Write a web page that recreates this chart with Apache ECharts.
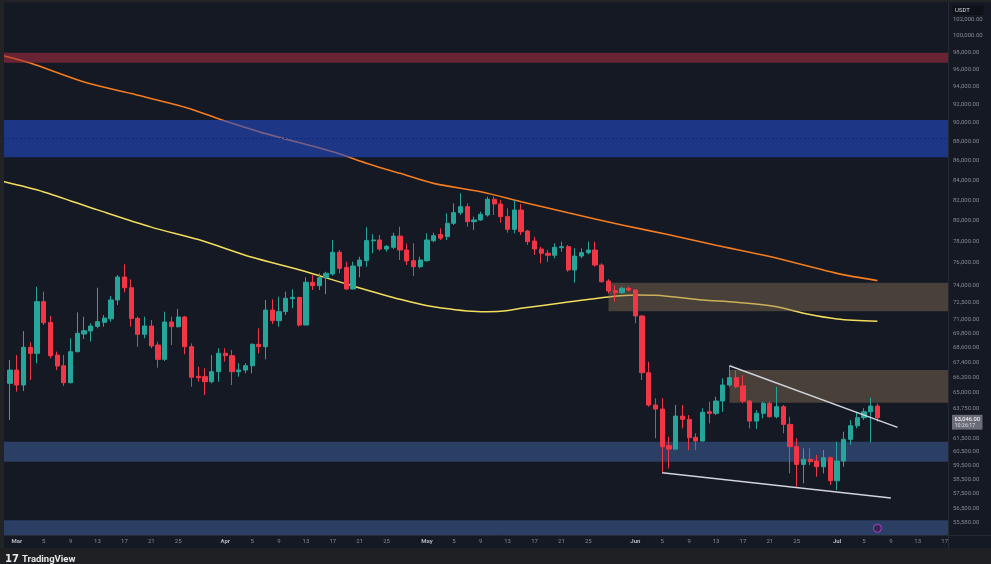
<!DOCTYPE html>
<html lang="en">
<head>
<meta charset="UTF-8">
<title>BTC/USDT 1D</title>
<script src="https://cdn.jsdelivr.net/npm/echarts@6/dist/echarts.min.js"></script>
<style>
    html, body { margin: 0; padding: 0; background: #151924; }
    #main { width: 991px; height: 564px; }
</style>
</head>
<body>
<div id="main"></div>
<script>
    // daily categories, Feb 28 .. Jul 17
    var dates = [];
    var t0 = Date.UTC(2024, 1, 28);
    for (var i = 0; i < 141; i++) {
        dates.push(new Date(t0 + i * 86400000).toISOString().slice(0, 10));
    }
    var firstCandle = '2024-02-29';

    // [open, close, low, high] from Feb 29 to Jul 7
    var candles = [
        [65720, 66780, 62870, 67600], [66780, 65585, 65060, 68005], [65585, 68640, 65110, 70000], [68640, 68140, 65980, 69060],
        [68140, 72530, 67320, 73850], [72530, 70710, 70510, 73410], [70740, 67950, 67730, 71290], [68000, 67110, 66780, 68280],
        [67130, 65770, 65510, 68000], [65770, 68280, 65720, 69390], [68280, 69810, 68230, 71600], [69750, 70030, 69330, 71230],
        [70010, 70430, 69110, 70660], [70400, 70800, 70230, 73760], [70740, 71110, 70370, 71370], [71050, 72680, 70800, 73030],
        [72680, 74720, 72240, 74900], [74720, 73760, 73350, 75880], [73760, 71080, 70370, 74520], [71080, 69730, 68690, 71230],
        [69730, 70430, 69390, 71230], [70430, 68750, 68560, 70940], [68830, 67650, 66970, 69110], [67650, 70770, 67510, 71660],
        [70770, 70370, 68830, 71230], [70370, 71200, 70290, 71890], [71200, 68690, 68060, 71290], [68690, 66200, 65450, 68970],
        [66280, 66170, 65850, 67050], [66250, 65850, 64800, 66920], [65850, 66650, 65720, 68000], [66650, 68150, 65850, 68560],
        [68150, 67950, 67460, 68560], [67950, 66650, 65580, 68420], [66650, 66780, 66250, 67330], [66780, 67130, 66520, 67330],
        [67130, 68890, 66520, 68970], [68890, 68690, 68140, 70230], [68690, 71800, 67650, 72680], [71800, 70880, 70600, 72740],
        [70880, 71660, 70370, 72970], [71660, 72830, 71370, 73410], [72790, 72910, 71950, 73620], [72910, 70510, 70370, 72950],
        [70510, 74250, 70510, 74700], [74250, 73940, 73560, 74900], [73940, 74660, 73560, 75060], [74660, 75060, 73200, 75200],
        [75000, 76990, 74840, 78140], [76990, 75510, 75060, 77200], [75600, 73650, 73560, 76120], [73650, 75720, 73620, 76120],
        [75720, 76270, 74700, 76580], [76210, 78080, 75660, 79350], [78060, 78140, 76890, 78680], [78140, 77290, 77130, 78610],
        [77290, 77540, 77040, 77670], [77450, 78510, 77290, 78830], [78510, 77200, 76270, 79400], [77200, 76180, 75810, 77820],
        [76210, 75660, 74810, 77830], [75660, 76270, 75510, 76580], [76210, 78140, 76120, 78770], [78070, 78550, 77920, 78830],
        [78650, 78310, 78140, 79250], [78450, 79730, 78140, 80700], [79730, 80760, 79570, 81680], [80760, 81350, 80530, 82670],
        [81350, 79890, 79400, 81680], [79890, 80050, 79090, 80370], [80050, 80600, 79980, 80860], [80530, 82080, 80370, 82340],
        [82080, 81610, 80530, 82340], [81610, 80370, 79790, 82010], [80370, 79150, 78830, 81190], [79150, 81020, 78770, 82010],
        [81020, 78930, 78610, 81610], [78990, 77980, 77670, 79090], [78040, 77290, 76740, 78450], [77290, 76890, 75970, 77500],
        [76890, 76710, 76120, 77200], [76710, 77450, 76430, 77830], [77420, 77510, 77040, 77980], [77510, 75360, 75200, 77670],
        [75360, 76640, 74210, 77360], [76640, 76950, 76430, 77360], [76950, 77200, 76790, 77980], [77200, 75810, 75660, 77980],
        [75810, 74300, 74210, 75970], [74360, 73470, 73270, 74520], [73500, 73320, 72530, 74000], [73320, 73710, 73200, 73850],
        [73710, 73560, 73410, 73850], [73560, 71290, 70660, 73620], [71290, 66570, 65980, 71370], [66570, 64020, 63890, 67460],
        [64020, 63710, 61500, 64540], [63710, 60880, 58950, 64540], [60950, 60700, 59300, 61620], [60700, 63170, 60630, 64020],
        [63170, 62920, 62240, 64020], [62920, 61540, 60630, 63250], [61570, 61300, 60630, 61870], [61300, 63460, 61250, 63770],
        [63500, 63380, 62620, 64280], [63380, 64330, 63250, 64670], [64330, 65590, 63500, 66120], [65590, 66170, 65450, 67130],
        [66170, 65450, 65320, 66780], [65510, 64330, 64150, 66380], [64330, 62790, 62240, 64410], [62790, 63380, 62190, 63630],
        [63380, 64150, 63000, 64280], [64150, 63120, 63050, 64280], [63120, 63890, 63000, 65450], [63890, 62540, 61870, 64020],
        [62540, 60880, 58950, 63120], [60880, 59590, 58000, 61500], [59590, 59960, 58240, 60760], [59960, 59780, 59540, 60760],
        [59830, 59420, 58710, 60270], [59420, 60070, 58950, 60630], [60070, 58430, 58120, 60150], [58430, 59830, 57770, 61240],
        [59830, 61420, 59420, 61990], [61420, 62440, 61000, 62870], [62440, 63050, 62240, 63500], [63050, 63500, 62870, 63770],
        [63500, 63940, 61190, 64590], [63940, 63046, 62740, 64150]
    ];

    // moving averages
    var ma200 = [
        ['2024-02-28', 97620], ['2024-03-03', 96760], ['2024-03-11', 94570], ['2024-03-18', 93260],
        ['2024-03-26', 91730], ['2024-03-31', 90460], ['2024-04-07', 88850], ['2024-04-17', 86930],
        ['2024-04-22', 85730], ['2024-04-27', 84690], ['2024-05-02', 83670], ['2024-05-09', 82820],
        ['2024-05-15', 81840], ['2024-05-22', 80750], ['2024-05-30', 79570], ['2024-06-06', 78630],
        ['2024-06-13', 77650], ['2024-06-21', 76590], ['2024-07-01', 75050], ['2024-07-07', 74400]
    ];
    var ma100 = [
        ['2024-02-28', 83850], ['2024-03-05', 82810], ['2024-03-13', 81030], ['2024-03-21', 79360],
        ['2024-03-28', 78180], ['2024-04-05', 76520], ['2024-04-12', 75380], ['2024-04-20', 73920],
        ['2024-04-27', 72740], ['2024-05-02', 72080], ['2024-05-09', 71660], ['2024-05-12', 71700],
        ['2024-05-15', 71950], ['2024-05-22', 72500], ['2024-05-28', 72950], ['2024-06-01', 73120],
        ['2024-06-04', 73090], ['2024-06-11', 72680], ['2024-06-16', 72470], ['2024-06-22', 72090],
        ['2024-06-26', 71520], ['2024-07-01', 71030], ['2024-07-07', 70830]
    ];

    // trend lines
    var upperTrend = [['2024-06-15', 67130], ['2024-07-10', 62320]];
    var lowerTrend = [['2024-06-05', 58990], ['2024-07-09', 57220]];

    // price zones [low, high] (and start date for the partial ones)
    var redZone = [96800, 97970];
    var blueZone = [86350, 90320];
    var blueMid = 88310;
    var supportZone = [59780, 61240];
    var bottomZone = [54720, 55700];
    var supplyZones = [[71690, 74210, '2024-05-28'], [64200, 66780, '2024-06-15']];

    // price axis labels
    var priceTicks = [102000, 100000, 98000, 96000, 94000, 92000, 90000, 88000, 86000, 84000, 82000, 80000,
        78000, 76000, 74000, 72500, 71000, 69800, 68600, 67400, 66200, 65000, 63750, 61500, 60500,
        59500, 58500, 57500, 56500, 55580];
    var dayTicks = [1, 5, 9, 13, 17, 21, 25];
    var monthNames = ['Jan', 'Feb', 'Mar', 'Apr', 'May', 'Jun', 'Jul', 'Aug', 'Sep', 'Oct', 'Nov', 'Dec'];

    var yMin = 54720, yMax = 104030;
    var lastClose = candles[candles.length - 1][1];
    var eventPoint = [['2024-07-07', 55165]];

    function fmt(v) {
        return v.toFixed(2).replace(/\B(?=(\d{3})+(?!\d))/g, ',');
    }

    var startIdx = dates.indexOf(firstCandle);
    var candleData = dates.map(function (d, i) {
        var k = i - startIdx;
        return (k >= 0 && k < candles.length) ? candles[k] : '-';
    });

    var myChart = echarts.init(document.getElementById('main'));

    var option = {
        backgroundColor: '#151924',
        animation: false,
        grid: { left: 0, right: 43, top: 3, bottom: 29 },
        xAxis: {
            type: 'category',
            data: dates,
            boundaryGap: true,
            axisLine: { show: false },
            axisTick: { show: false },
            splitLine: { show: false },
            axisLabel: {
                margin: 3,
                fontSize: 6,
                fontFamily: 'Roboto, sans-serif',
                color: '#868993',
                interval: function (i, v) {
                    return dayTicks.indexOf(+v.slice(8)) >= 0;
                },
                formatter: function (v) {
                    var d = +v.slice(8);
                    return d === 1 ? '{m|' + monthNames[+v.slice(5, 7) - 1] + '}' : String(d);
                },
                rich: { m: { fontSize: 6, fontWeight: 'bold', color: '#b2b5be', fontFamily: 'Roboto, sans-serif' } }
            }
        },
        yAxis: {
            type: 'log',
            logBase: 10,
            position: 'right',
            min: yMin,
            max: yMax,
            axisLine: { show: false },
            axisTick: { show: false },
            splitLine: { show: false },
            axisLabel: {
                customValues: priceTicks,
                formatter: fmt,
                margin: 5,
                fontSize: 6,
                fontFamily: 'Roboto, sans-serif',
                color: '#868993'
            }
        },
        graphic: [
            { type: 'rect', z: 100, shape: { x: 0, y: 0, width: 4, height: 564 }, style: { fill: '#222326' } },
            { type: 'rect', z: 100, shape: { x: 0, y: 0, width: 991, height: 2.5 }, style: { fill: '#222326' } },
            { type: 'rect', z: 100, shape: { x: 0, y: 548, width: 991, height: 16 }, style: { fill: '#1f2023' } },
            { type: 'line', z: 100, shape: { x1: 948.5, y1: 2.5, x2: 948.5, y2: 548 }, style: { stroke: '#262a35', lineWidth: 1 } },
            { type: 'line', z: 100, shape: { x1: 4, y1: 535.5, x2: 991, y2: 535.5 }, style: { stroke: '#262a35', lineWidth: 1 } },
            { type: 'rect', z: 100, shape: { x: 952.5, y: 5.5, width: 31, height: 9.5 }, style: { fill: '#0e1117' } },
            { type: 'text', z: 101, style: { x: 955, y: 10.5, text: 'USDT', fill: '#d1d4dc', fontSize: 6, fontFamily: 'Roboto, sans-serif', verticalAlign: 'middle' } },
            { type: 'text', z: 101, style: { x: 5, y: 559.5, text: '17', fill: '#e8e8e8', fontSize: 10, fontWeight: 900, fontFamily: 'DejaVu Sans', verticalAlign: 'middle' } },
            { type: 'text', z: 101, style: { x: 22, y: 559.5, text: 'TradingView', fill: '#e8e8e8', fontSize: 9.5, fontWeight: 'bold', fontFamily: 'Roboto, sans-serif', verticalAlign: 'middle' } }
        ],
        series: [
            {
                name: 'MA 200',
                type: 'line',
                z: 2,
                data: ma200,
                smooth: 0.3,
                showSymbol: false,
                connectNulls: true,
                lineStyle: { color: '#f57c1f', width: 1.6 }
            },
            {
                name: 'MA 100',
                type: 'line',
                z: 2,
                data: ma100,
                smooth: 0.3,
                showSymbol: false,
                connectNulls: true,
                lineStyle: { color: '#f2dd5c', width: 1.5 }
            },
            {
                name: 'zones',
                type: 'line',
                z: 3,
                data: [],
                markArea: {
                    silent: true,
                    z: 3,
                    data: [
                        [{ yAxis: redZone[1], itemStyle: { color: 'rgba(170,45,65,0.56)' } }, { yAxis: redZone[0] }],
                        [{ yAxis: blueZone[1], itemStyle: { color: 'rgba(35,75,200,0.6)' } }, { yAxis: blueZone[0] }],
                        [{ yAxis: supportZone[1], itemStyle: { color: 'rgba(70,110,180,0.45)' } }, { yAxis: supportZone[0] }],
                        [{ yAxis: bottomZone[1], itemStyle: { color: 'rgba(70,110,180,0.45)' } }, { yAxis: bottomZone[0] }]
                    ].concat(supplyZones.map(function (z) {
                        return [{ xAxis: z[2], yAxis: z[1], itemStyle: { color: 'rgba(145,120,88,0.42)' } }, { yAxis: z[0] }];
                    }))
                },
                markLine: {
                    silent: true,
                    symbol: 'none',
                    z: 3,
                    label: { show: false },
                    lineStyle: { color: '#15267a', type: [2, 2], width: 1 },
                    data: [{ yAxis: blueMid }]
                }
            },
            {
                name: 'BTCUSDT',
                type: 'candlestick',
                z: 5,
                data: candleData,
                barWidth: '70%',
                itemStyle: {
                    color: '#26a69a',
                    color0: '#f23645',
                    borderColor: '#26a69a',
                    borderColor0: '#f23645',
                    borderWidth: 1
                }
            },
            {
                name: 'last price',
                type: 'line',
                z: 10,
                data: [],
                clip: false,
                markLine: {
                    silent: true,
                    symbol: 'none',
                    z: 10,
                    lineStyle: { color: '#151924', width: 0.01 },
                    label: {
                        show: true,
                        position: 'end',
                        distance: 4,
                        offset: [0, 4.5],
                        backgroundColor: '#6a6d77',
                        padding: [1.5, 2.5, 1, 2.5],
                        formatter: '{p|' + fmt(lastClose) + '}\n{t|10:26:17}',
                        rich: {
                            p: { fontSize: 5.8, color: '#ffffff', lineHeight: 6.5, fontFamily: 'Roboto, sans-serif' },
                            t: { fontSize: 5.4, color: '#dcdde0', lineHeight: 5.8, fontFamily: 'Roboto, sans-serif' }
                        }
                    },
                    data: [{ yAxis: lastClose }]
                }
            },
            {
                name: 'upper trend',
                type: 'line',
                z: 6,
                data: upperTrend,
                showSymbol: false,
                lineStyle: { color: '#d1d4dc', width: 1.4 }
            },
            {
                name: 'lower trend',
                type: 'line',
                z: 6,
                data: lowerTrend,
                showSymbol: false,
                lineStyle: { color: '#d1d4dc', width: 1.4 }
            },
            {
                name: 'event',
                type: 'scatter',
                z: 6,
                data: eventPoint,
                symbol: 'circle',
                symbolSize: 8,
                itemStyle: { color: '#3b1d55', borderColor: '#c44ad6', borderWidth: 1 }
            }
        ]
    };
    myChart.setOption(option);
</script>
</body>
</html>
